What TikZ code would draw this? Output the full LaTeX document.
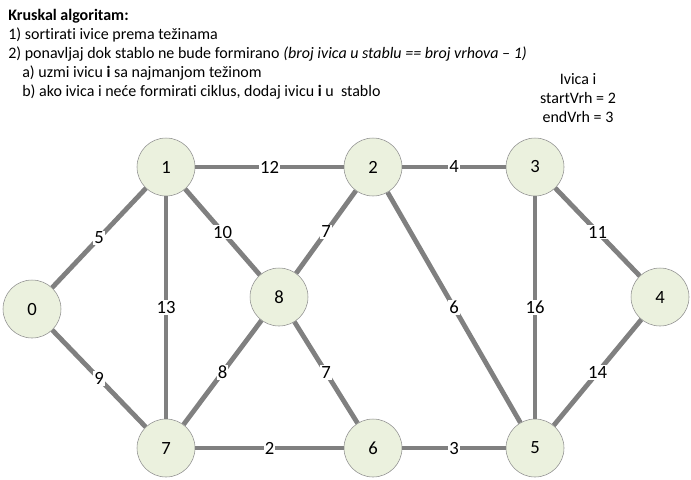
\documentclass[tikz,border=0pt]{standalone}
\usepackage{fontspec}
\setmainfont{Carlito}[Ligatures=NoCommon]
\usetikzlibrary{positioning}
\definecolor{vrhfill}{HTML}{EBF1DE}
\definecolor{vrhstr}{HTML}{8C8C8C}
\definecolor{ivicastr}{HTML}{808080}
\tikzset{
  vrh/.style   ={circle, draw=vrhstr, fill=vrhfill, thin, minimum size=43.5pt,
                 inner sep=0pt, font=\fontsize{14}{16}\selectfont},
  ivica/.style ={draw=ivicastr, line width=3.6pt},
  tezina/.style={fill=white, inner sep=0.8pt, font=\fontsize{14}{16}\selectfont},
  tekst/.style ={anchor=base west, inner sep=0pt, font=\fontsize{12}{14}\selectfont},
}
\begin{document}
\begin{tikzpicture}[x=0.75pt, y=-0.75pt]
    \useasboundingbox (0,0) rectangle (691,479);
    % opis algoritma
    \node[tekst] (naslov) at (8,20) {\textbf{Kruskal algoritam:}};
    \node[tekst] (k1) at (8,39) {1) sortirati ivice prema težinama};
    \node[tekst] (k2) at (8,58) {2) ponavljaj dok stablo ne bude formirano \textit{(broj ivica u stablu == broj vrhova – 1)}};
    \node[tekst] (ka) at (22,77) {a) uzmi ivicu \textbf{i} sa najmanjom težinom};
    \node[tekst] (kb) at (22,96) {b) ako ivica i neće formirati ciklus, dodaj ivicu \textbf{i} u\ \ stablo};
    \node[align=center, inner sep=0pt, font=\fontsize{12}{14.3}\selectfont] (ivica) at (578,98)
        {Ivica i\\startVrh = 2\\endVrh = 3};

    % vrhovi
    \node[vrh] (v0) at (32,309) {0};
    \node[vrh] (v1) at (166,167) {1};
    \node[vrh] (v2) at (373,167) {2};
    \node[vrh] (v3) at (535,167) {3};
    \node[vrh] (v4) at (660,297) {4};
    \node[vrh] (v5) at (535,448) {5};
    \node[vrh] (v6) at (373,448) {6};
    \node[vrh] (v7) at (166,448) {7};
    \node[vrh] (v8) at (279,297) {8};

    % ivice
    \draw[ivica] (v0) -- node[tezina]{5} (v1);
    \draw[ivica] (v0) -- node[tezina]{9} (v7);
    \draw[ivica] (v1) -- node[tezina]{12} (v2);
    \draw[ivica] (v1) -- node[tezina]{13} (v7);
    \draw[ivica] (v1) -- node[tezina]{10} (v8);
    \draw[ivica] (v2) -- node[tezina]{4} (v3);
    \draw[ivica] (v2) -- node[tezina]{7} (v8);
    \draw[ivica] (v2) -- node[tezina]{6} (v5);
    \draw[ivica] (v3) -- node[tezina]{11} (v4);
    \draw[ivica] (v3) -- node[tezina]{16} (v5);
    \draw[ivica] (v4) -- node[tezina]{14} (v5);
    \draw[ivica] (v8) -- node[tezina]{8} (v7);
    \draw[ivica] (v8) -- node[tezina]{7} (v6);
    \draw[ivica] (v7) -- node[tezina]{2} (v6);
    \draw[ivica] (v6) -- node[tezina]{3} (v5);
\end{tikzpicture}
\end{document}
